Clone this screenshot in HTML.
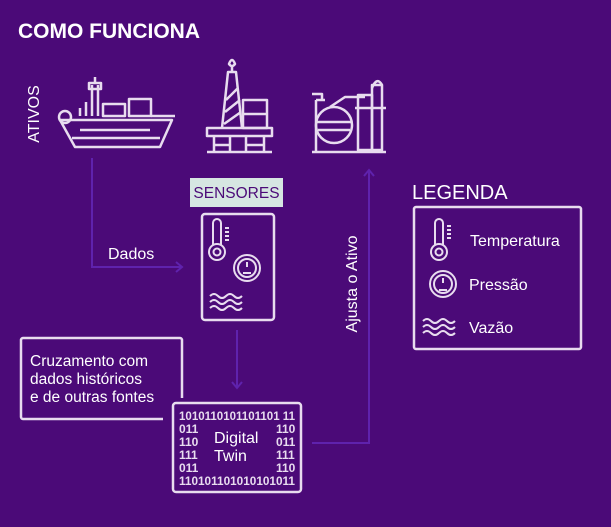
<!DOCTYPE html>
<html><head><meta charset="utf-8"><style>
html,body{margin:0;padding:0;}
body{width:611px;height:527px;background:#4b0a78;overflow:hidden;font-family:"Liberation Sans",sans-serif;}
svg{display:block}
</style></head><body>
<svg width="611" height="527" viewBox="0 0 611 527" xmlns="http://www.w3.org/2000/svg" font-family="Liberation Sans, sans-serif">
<rect width="611" height="527" fill="#4b0a78"/>
<text x="18" y="38" fill="#fff" font-size="21" font-weight="bold">COMO FUNCIONA</text>
<text transform="translate(39,114) rotate(-90)" text-anchor="middle" fill="#fff" font-size="16">ATIVOS</text>

<g stroke="#e8dcef" stroke-width="2.5" fill="none" stroke-linejoin="round">
<path d="M60 120 L172 120 L160 147 L75 147 Z"/>
<path d="M72 138 L160 138 M80 130 L150 130"/>
<circle cx="65" cy="117" r="6"/>
<path d="M80 116 V108 M86 116 V102 M92 116 V85 M98 116 V85"/>
<rect x="89" y="83" width="12" height="6"/>
<path d="M95 83 V77"/>
<rect x="103" y="104" width="22" height="12"/><rect x="129" y="99" width="22" height="17"/>
<path d="M151 116 H175"/>
<path d="M222 128 L228 72 H236 L242 128 M226 100 L238 88 M225 112 L240 100 M224 124 L241 112"/>
<path d="M232 72 V66"/><path d="M229 64 Q232 56 235 64 Q232 68 229 64Z"/>
<rect x="207" y="128" width="65" height="8"/>
<rect x="243" y="100" width="24" height="28"/><path d="M243 114 H267"/>
<path d="M214 136 V152 M230 136 V152 M246 136 V152 M264 136 V152 M214 145 H230 M246 145 H264 M207 152 H272"/>
<circle cx="334" cy="125" r="18"/>
<path d="M316 122 H352 M318 130 H350"/>
<path d="M316 100 V152 M316 100 H325 M312 94 H322 V100"/>
<path d="M330 107 L345 97 H365"/>
<rect x="358" y="95" width="14" height="55"/>
<rect x="372" y="85" width="10" height="65"/>
<path d="M372 88 Q377 76 382 85"/>
<path d="M355 108 H386 M312 152 H386"/>
</g>

<g stroke="#5f22ad" stroke-width="2" fill="none">
<path d="M92 158 V267 H182"/><path d="M176 262 L182 267 L176 272"/>
<path d="M237 330 V388"/><path d="M232 382 L237 388 L242 382"/>
<path d="M312 443 H369 V170"/><path d="M364 176 L369 170 L374 176"/>
</g>

<text x="108" y="259" fill="#fff" font-size="16">Dados</text>
<text transform="translate(357,284) rotate(-90)" text-anchor="middle" fill="#fff" font-size="16">Ajusta o Ativo</text>

<rect x="190" y="178" width="93" height="29" fill="#d6e6e2"/>
<text x="236.5" y="198" text-anchor="middle" fill="#4b0a78" font-size="15.5">SENSORES</text>
<rect x="202" y="214" width="72" height="106" rx="3" fill="none" stroke="#e8dcef" stroke-width="2.5"/>
<g stroke="#e8dcef" stroke-width="2" fill="none">
<path d="M213 245 V223 a4 4 0 0 1 8 0 V245"/><circle cx="217" cy="252" r="8"/><circle cx="217" cy="252" r="3.5"/>
<path d="M225 228 h4 M225 232 h4 M225 236 h4 M225 240 h4"/>
<circle cx="247" cy="268" r="13"/><circle cx="247" cy="268" r="9"/><path d="M247 262 v5 M243 273 h8"/>
<path d="M210 296 q4 -4 8 0 t8 0 t8 0 t8 0 M210 302 q4 -4 8 0 t8 0 t8 0 t8 0 M210 308 q4 -4 8 0 t8 0 t8 0 t8 0"/>
</g>

<path d="M182 398 V340 a2 2 0 0 0 -2 -2 H23 a2 2 0 0 0 -2 2 V417 a2 2 0 0 0 2 2 H163" fill="none" stroke="#e8dcef" stroke-width="2.5"/>
<text fill="#fff" font-size="15.5"><tspan x="30" y="366">Cruzamento com</tspan><tspan x="30" y="384">dados históricos</tspan><tspan x="30" y="402">e de outras fontes</tspan></text>

<rect x="173" y="403" width="128" height="89" rx="3" fill="none" stroke="#e8dcef" stroke-width="2.5"/>
<g fill="#e8dcef" font-size="12" font-weight="bold">
<text x="179" y="420" textLength="116" lengthAdjust="spacingAndGlyphs">1010110101101101 11</text>
<text x="179" y="433">011</text><text x="276" y="433">110</text>
<text x="179" y="446">110</text><text x="276" y="446">011</text>
<text x="179" y="459">111</text><text x="276" y="459">111</text>
<text x="179" y="472">011</text><text x="276" y="472">110</text>
<text x="179" y="485" textLength="116" lengthAdjust="spacingAndGlyphs">110101101010101011</text>
</g>
<text fill="#fff" font-size="16"><tspan x="214" y="443">Digital</tspan><tspan x="214" y="461">Twin</tspan></text>

<text x="412" y="199" fill="#fff" font-size="20">LEGENDA</text>
<rect x="414" y="207" width="167" height="142" rx="2" fill="none" stroke="#e8dcef" stroke-width="2.5"/>
<g stroke="#e8dcef" stroke-width="2" fill="none">
<path d="M435 245 V223 a4 4 0 0 1 8 0 V245"/><circle cx="439" cy="252" r="8"/><circle cx="439" cy="252" r="3.5"/>
<path d="M447 226 h4 M447 230 h4 M447 234 h4 M447 238 h4"/>
<circle cx="443" cy="284" r="13"/><circle cx="443" cy="284" r="9"/><path d="M443 278 v5 M439 290 h8"/>
<path d="M423 321 q4 -4 8 0 t8 0 t8 0 t8 0 M423 327 q4 -4 8 0 t8 0 t8 0 t8 0 M423 333 q4 -4 8 0 t8 0 t8 0 t8 0"/>
</g>
<text x="470" y="246" fill="#fff" font-size="16">Temperatura</text>
<text x="469" y="290" fill="#fff" font-size="16">Pressão</text>
<text x="469" y="333" fill="#fff" font-size="16">Vazão</text>
</svg>
</body></html>
